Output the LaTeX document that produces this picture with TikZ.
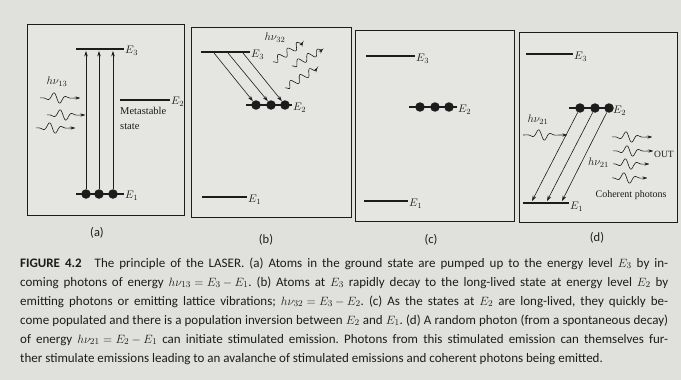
\documentclass[tikz,border=0pt]{standalone}
\usepackage{fontspec}
\setmainfont{Liberation Serif}
\newfontfamily\capfont{Carlito}
\usetikzlibrary{arrows.meta}
\definecolor{paper}{RGB}{224,224,221}
\definecolor{boxfill}{RGB}{229,229,226}
\definecolor{ink}{RGB}{28,28,28}
\tikzset{
  photon/.style={ink, line width=0.6pt, -{Stealth[length=4.5pt,width=3.2pt]}},
  pics/wpk/.style={code={
    \draw[photon] plot[smooth,samples=80,domain=0:#1]
      (\x,{6*exp(-((\x-0.42*#1)*(\x-0.42*#1))/60)*sin(28*(\x-0.42*#1))});
  }},
  pics/squig/.style={code={
    \draw[photon] plot[smooth,samples=90,domain=0:#1]
      (\x,{3.4*sin(32*\x)*min(1,\x/4,(#1-\x)/6)});
  }},
}
\begin{document}
\frenchspacing
\thickmuskip=5mu
\medmuskip=3.5mu
\begin{tikzpicture}[x=1pt,y=-1pt,
  level/.style={line width=2.3pt, ink},
  panel/.style={draw=ink, line width=1pt, fill=boxfill},
  atom/.style={circle, fill=ink, minimum size=9.5pt, inner sep=0pt},
  elabel/.style={anchor=west, inner sep=1pt, text=ink, font=\fontsize{11}{13}\selectfont},
  txt/.style={inner sep=0pt, text=ink, font=\fontsize{11}{13}\selectfont},
  arr/.style={ink, line width=0.6pt, -{Stealth[length=5.5pt,width=3.6pt]}},
  plabel/.style={inner sep=0pt, text=ink, font=\capfont\fontsize{12.5}{14}\selectfont},
  capl/.style={anchor=base west, inner sep=0pt, text=ink, font=\capfont\fontsize{13}{15}\selectfont},
]
\useasboundingbox (0,0) rectangle (681,380);
\fill[paper] (0,0) rectangle (681,380);

% panels
\draw[panel] (27,24) rectangle (184,215);
\draw[panel] (191,27) rectangle (351,217);
\draw[panel] (355,30) rectangle (514,221);
\draw[panel] (519,32) rectangle (677,222);

% ---------- (a)
\draw[level] (76,49) -- (124,49);
\node[elabel] (aE3) at (124,51) {$E_3$};
\draw[level] (120,100) -- (170,100);
\node[elabel] (aE2) at (170,102) {$E_2$};
\draw[level] (76,194) -- (124,194);
\node[elabel] (aE1) at (124,196) {$E_1$};
\node[atom] (a1) at (86,194) {};
\node[atom] (a2) at (99,194) {};
\node[atom] (a3) at (113,194) {};
\coordinate (a1t) at (86,51);
\coordinate (a2t) at (99,51);
\coordinate (a3t) at (113,51);
\draw[arr] (a1) -- (a1t);
\draw[arr] (a2) -- (a2t);
\draw[arr] (a3) -- (a3t);
\node[txt, align=left, anchor=north west, font=\fontsize{10.5}{15}\selectfont] (ameta) at (120,107) {Metastable\\state};
\node[txt] (ahv) at (57,82) {$h\nu_{13}$};
\pic at (40,98) {wpk=40};
\pic at (47,115) {wpk=38};
\pic at (36,128) {wpk=39};
\node[plabel] (la) at (97,233) {(a)};

% ---------- (b)
\draw[level] (201,52) -- (250,52);
\node[elabel] (bE3) at (250,55) {$E_3$};
\draw[level] (246,105) -- (292,105);
\node[elabel] (bE2) at (292,108) {$E_2$};
\draw[level] (202,197) -- (247,197);
\node[elabel] (bE1) at (247,200) {$E_1$};
\node[atom] (b1) at (256,105) {};
\node[atom] (b2) at (271,105) {};
\node[atom] (b3) at (285,105) {};
\coordinate (bs1) at (214,53);
\coordinate (bs2) at (228,53);
\coordinate (bs3) at (243,53);
\draw[arr] (bs1) -- (b1);
\draw[arr] (bs2) -- (b2);
\draw[arr] (bs3) -- (b3);
\node[txt] (bhv) at (275,38) {$h\nu_{32}$};
\pic[rotate=33.7] at (273,62) {squig=36};
\pic[rotate=28.7] at (292,66) {squig=35};
\pic[rotate=32] at (285,88) {squig=38};
\node[plabel] (lb) at (266,240) {(b)};

% ---------- (c)
\draw[level] (366,56) -- (415,56);
\node[elabel] (cE3) at (415,59) {$E_3$};
\draw[level] (409,107) -- (457,107);
\node[elabel] (cE2) at (457,110) {$E_2$};
\draw[level] (364,201) -- (408,201);
\node[elabel] (cE1) at (408,204) {$E_1$};
\node[atom] (c1) at (420,107) {};
\node[atom] (c2) at (435,107) {};
\node[atom] (c3) at (449,107) {};
\node[plabel] (lc) at (431,240) {(c)};

% ---------- (d)
\draw[level] (526,54) -- (573,54);
\node[elabel] (dE3) at (573,57) {$E_3$};
\draw[level] (569,108) -- (612,108);
\node[elabel] (dE2) at (612,111) {$E_2$};
\draw[level] (523,203) -- (569,203);
\node[elabel] (dE1) at (569,207) {$E_1$};
\node[atom] (d1) at (580,108) {};
\node[atom] (d2) at (595,108) {};
\node[atom] (d3) at (609,108) {};
\coordinate (de1) at (532,201);
\coordinate (de2) at (547,201);
\coordinate (de3) at (562,201);
\draw[arr] (d1) -- (de1);
\draw[arr] (d2) -- (de2);
\draw[arr] (d3) -- (de3);
\node[txt] (dhv1) at (538,120) {$h\nu_{21}$};
\pic at (523,135) {wpk=44};
\node[txt, anchor=east] (dhv2) at (609,163) {$h\nu_{21}$};
\pic at (612,137) {wpk=40};
\pic at (613,151) {wpk=40};
\pic at (613,164) {wpk=36};
\pic at (612,178) {wpk=35};
\node[txt, anchor=west, font=\fontsize{9.5}{11}\selectfont] (dout) at (654,154) {OUT};
\node[txt, font=\fontsize{10}{12}\selectfont] (dcoh) at (631,195) {Coherent photons};
\node[plabel] (ld) at (597,238) {(d)};

% ---------- caption
\node[capl] (cap1) at (20,267) {\hbox to 648pt{\textbf{FIGURE 4.2}\hskip 1em The principle of the LASER. (a) Atoms in the ground state are pumped up to the energy level $E_3$ by in-}};
\node[capl] (cap2) at (20,286) {\hbox to 648pt{coming photons of energy $h\nu_{13}=E_3-E_1$. (b) Atoms at $E_3$ rapidly decay to the long-lived state at energy level $E_2$ by}};
\node[capl] (cap3) at (20,305) {\hbox to 648pt{emitting photons or emitting lattice vibrations; $h\nu_{32}=E_3-E_2$. (c) As the states at $E_2$ are long-lived, they quickly be-}};
\node[capl] (cap4) at (20,324) {\hbox to 648pt{come populated and there is a population inversion between $E_2$ and $E_1$. (d) A random photon (from a spontaneous decay)}};
\node[capl] (cap5) at (20,343) {\hbox to 648pt{of energy $h\nu_{21}=E_2-E_1$ can initiate stimulated emission. Photons from this stimulated emission can themselves fur-}};
\node[capl] (cap6) at (20,362) {ther stimulate emissions leading to an avalanche of stimulated emissions and coherent photons being emitted.};
\end{tikzpicture}
\end{document}
